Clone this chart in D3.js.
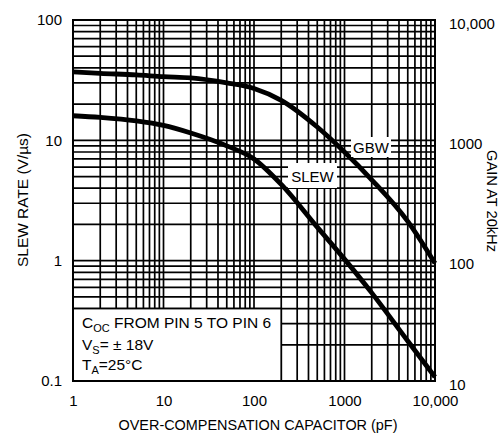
<!DOCTYPE html>
<html>
<head>
<meta charset="utf-8">
<script src="https://cdn.jsdelivr.net/npm/d3@7"></script>
<style>
  body { margin: 0; background: #fff; }
  text { font-family: "Liberation Sans", Arial, sans-serif; fill: #000; }
</style>
</head>
<body>
<div id="chart"></div>
<script>
// data
const capValues = [1, 2, 5, 10, 20, 50, 100, 200, 500, 1000, 2000, 5000, 10000];
const slewRate = [16, 15.5, 14.5, 13.3, 11.5, 9.0, 7.0, 4.3, 1.9, 1.03, 0.54, 0.215, 0.108];
const gbwValues = [3700, 3600, 3500, 3380, 3300, 3000, 2700, 2150, 1290, 800, 470, 212, 95];

const xTicks = [1, 10, 100, 1000, 10000];
const xTickLabels = ['1', '10', '100', '1000', '10,000'];
const yLeftTicks = [0.1, 1, 10, 100];
const yLeftLabels = ['0.1', '1', '10', '100'];
const yRightTicks = [10, 100, 1000, 10000];
const yRightLabels = ['10', '100', '1000', '10,000'];

// constants
const FRAME_WIDTH = 500;
const FRAME_HEIGHT = 435;
const MARGINS = {left: 73, right: 65, top: 20, bottom: 54};
const VIS_WIDTH = FRAME_WIDTH - MARGINS.left - MARGINS.right;
const VIS_HEIGHT = FRAME_HEIGHT - MARGINS.top - MARGINS.bottom;

const svg = d3.select('#chart')
  .append('svg')
  .attr('width', FRAME_WIDTH)
  .attr('height', FRAME_HEIGHT);

const g = svg.append('g')
  .attr('transform', 'translate(' + MARGINS.left + ',' + MARGINS.top + ')');

const xScale = d3.scaleLog().domain([1, 10000]).range([0, VIS_WIDTH]);
const yLeft = d3.scaleLog().domain([0.1, 100]).range([VIS_HEIGHT, 0]);
const yRight = d3.scaleLog().domain([10, 10000]).range([VIS_HEIGHT, 0]);

// grid (log minor lines)
g.append('g')
  .attr('class', 'grid')
  .selectAll('line.v')
  .data(xScale.ticks())
  .enter().append('line')
  .attr('x1', d => xScale(d)).attr('x2', d => xScale(d))
  .attr('y1', 0).attr('y2', VIS_HEIGHT)
  .attr('stroke', '#000').attr('stroke-width', 1.7);

g.append('g')
  .attr('class', 'grid')
  .selectAll('line.h')
  .data(yLeft.ticks())
  .enter().append('line')
  .attr('x1', 0).attr('x2', VIS_WIDTH)
  .attr('y1', d => yLeft(d)).attr('y2', d => yLeft(d))
  .attr('stroke', '#000').attr('stroke-width', 1.7);

// conditions box, bottom left
g.append('rect')
  .attr('x', xScale(1)).attr('y', yLeft(0.4))
  .attr('width', xScale(200) - xScale(1))
  .attr('height', yLeft(0.1) - yLeft(0.4))
  .attr('fill', '#fff').attr('stroke', '#000').attr('stroke-width', 1.7);

const note = g.append('g').attr('font-size', 15.5);
const n1 = note.append('text').attr('x', 9).attr('y', 308);
n1.append('tspan').text('C');
n1.append('tspan').attr('dy', 4).attr('font-size', 11).text('OC');
n1.append('tspan').attr('dy', -4).text(' FROM PIN 5 TO PIN 6');
const n2 = note.append('text').attr('x', 9).attr('y', 330);
n2.append('tspan').text('V');
n2.append('tspan').attr('dy', 4).attr('font-size', 11).text('S');
n2.append('tspan').attr('dy', -4).text('= \u00b1 18V');
const n3 = note.append('text').attr('x', 9).attr('y', 350);
n3.append('tspan').text('T');
n3.append('tspan').attr('dy', 4).attr('font-size', 11).text('A');
n3.append('tspan').attr('dy', -4).text('=25\u00b0C');

// curves
const slewLine = d3.line()
  .x((d, i) => xScale(capValues[i]))
  .y(d => yLeft(d))
  .curve(d3.curveMonotoneX);
const gbwLine = d3.line()
  .x((d, i) => xScale(capValues[i]))
  .y(d => yRight(d))
  .curve(d3.curveMonotoneX);

g.append('path').datum(slewRate).attr('d', slewLine)
  .attr('fill', 'none').attr('stroke', '#000').attr('stroke-width', 4.8);
g.append('path').datum(gbwValues).attr('d', gbwLine)
  .attr('fill', 'none').attr('stroke', '#000').attr('stroke-width', 4.8);

// curve labels on white patches
g.append('rect').attr('x', 278).attr('y', 117).attr('width', 40).attr('height', 20).attr('fill', '#fff');
g.append('text').attr('x', 298).attr('y', 133).attr('text-anchor', 'middle')
  .attr('font-size', 15).text('GBW');
g.append('rect').attr('x', 215).attr('y', 143).attr('width', 49).attr('height', 25).attr('fill', '#fff');
g.append('text').attr('x', 239.5).attr('y', 162).attr('text-anchor', 'middle')
  .attr('font-size', 15).text('SLEW');

// frame
g.append('rect').attr('width', VIS_WIDTH).attr('height', VIS_HEIGHT)
  .attr('fill', 'none').attr('stroke', '#000').attr('stroke-width', 2);

// axes
const xAxis = g.append('g')
  .attr('transform', 'translate(0,' + VIS_HEIGHT + ')')
  .call(d3.axisBottom(xScale).tickValues(xTicks)
    .tickFormat((d, i) => xTickLabels[i]).tickSize(0).tickPadding(14));
const yAxisL = g.append('g')
  .call(d3.axisLeft(yLeft).tickValues(yLeftTicks)
    .tickFormat((d, i) => yLeftLabels[i]).tickSize(0).tickPadding(11));
const yAxisR = g.append('g')
  .attr('transform', 'translate(' + VIS_WIDTH + ',0)')
  .call(d3.axisRight(yRight).tickValues(yRightTicks)
    .tickFormat((d, i) => yRightLabels[i]).tickSize(0).tickPadding(14));

[xAxis, yAxisL, yAxisR].forEach(a => {
  a.select('.domain').remove();
  a.selectAll('text').attr('font-size', 15)
    .style('font-family', '"Liberation Sans", Arial, sans-serif');
});
yAxisR.selectAll('text').attr('dy', '0.55em');

// axis titles
svg.append('text')
  .attr('x', 258).attr('y', 430)
  .attr('text-anchor', 'middle').attr('font-size', 15)
  .attr('textLength', 279).attr('lengthAdjust', 'spacingAndGlyphs')
  .text('OVER-COMPENSATION CAPACITOR (pF)');

svg.append('text')
  .attr('transform', 'translate(28,200) rotate(-90)')
  .attr('text-anchor', 'middle').attr('font-size', 15)
  .attr('textLength', 134).attr('lengthAdjust', 'spacingAndGlyphs')
  .text('SLEW RATE (V/\u00b5s)');

svg.append('text')
  .attr('transform', 'translate(487,201) rotate(90)')
  .attr('text-anchor', 'middle').attr('font-size', 15)
  .attr('textLength', 102).attr('lengthAdjust', 'spacingAndGlyphs')
  .text('GAIN AT 20kHz');
</script>
</body>
</html>
